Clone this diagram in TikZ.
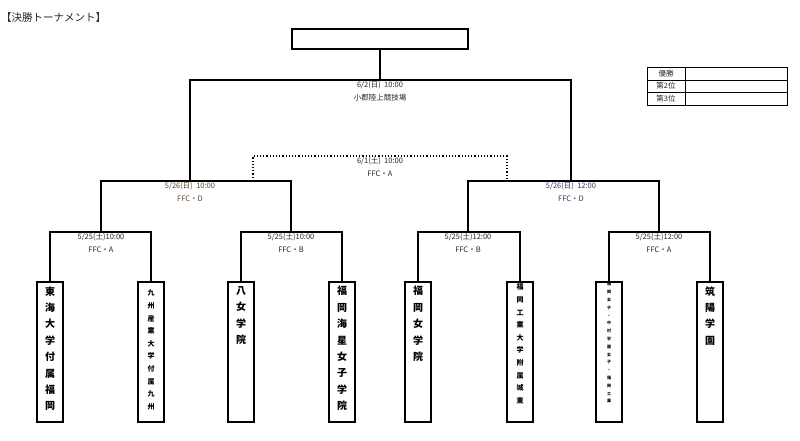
\documentclass[tikz,border=0pt]{standalone}
\usepackage{fontspec}
\setmainfont{Noto Sans CJK JP}
\definecolor{semiL}{RGB}{95,70,45}
\definecolor{semiR}{RGB}{45,55,100}
\begin{document}
\begin{tikzpicture}[x=1pt,y=-1pt,
        line/.style={line width=1.2pt},
        team/.style={draw,line width=1.5pt,minimum width=26pt,minimum height=140pt,inner sep=0pt},
        bigtate/.style={anchor=north,inner sep=0pt,align=center,font=\bfseries\fontsize{10}{16.4}\selectfont},
        midtate/.style={anchor=north,inner sep=0pt,align=center,font=\bfseries\fontsize{7}{12.6}\selectfont},
        minitate/.style={anchor=north,inner sep=0pt,align=center,font=\bfseries\fontsize{4}{7.8}\selectfont},
        info/.style={inner sep=0pt,font=\fontsize{7.5}{8}\selectfont,text=black!85}]
        \useasboundingbox (0,0) rectangle (800,441);
        \node[anchor=west,inner sep=0pt,font=\fontsize{10.5}{11}\selectfont,text=black!85] (title) at (1,18) {【決勝トーナメント】};
        \node[draw,line width=2.5pt,minimum width=176pt,minimum height=20pt,inner sep=0pt] (final) at (380,39) {};
        % rank table
        \draw (647,67) rectangle (787,105);
        \draw (685,67)--(685,105);
        \foreach \y in {80,92.5}
        \draw (647,\y)--(787,\y);
        \foreach \r [count=\i] in {優勝,第2位,第3位}
        \node[info] (rank\i) at (666,60.5+\i*12.7) {\r};
        % teams
        \foreach \x [count=\i] in {50,151,241,342,418,520,609,710}
        \node[team] (t\i) at (\x,352) {};
        \node[bigtate] (n1) at ([yshift=-5pt]t1.north) {東\\海\\大\\学\\付\\属\\福\\岡};
        \node[midtate] (n2) at ([yshift=-8.5pt]t2.north) {九\\州\\産\\業\\大\\学\\付\\属\\九\\州};
        \node[bigtate] (n3) at ([yshift=-5pt]t3.north) {八\\女\\学\\院};
        \node[bigtate] (n4) at ([yshift=-5pt]t4.north) {福\\岡\\海\\星\\女\\子\\学\\院};
        \node[bigtate] (n5) at ([yshift=-5pt]t5.north) {福\\岡\\女\\学\\院};
        \node[midtate] (n6) at ([yshift=-2.5pt]t6.north) {福\\岡\\工\\業\\大\\学\\附\\属\\城\\東};
        \node[minitate] (n7) at ([yshift=-1pt]t7.north) {福\\岡\\女\\子\\・\\中\\村\\学\\園\\女\\子\\・\\福\\岡\\工\\業};
        \node[bigtate] (n8) at ([yshift=-5pt]t8.north) {筑\\陽\\学\\園};
        % bracket points
        \coordinate (q1) at (101,232);
        \coordinate (q2) at (291,232);
        \coordinate (q3) at (468,232);
        \coordinate (q4) at (659,232);
        \coordinate (s1) at (190,181);
        \coordinate (s2) at (571,181);
        \coordinate (f) at (380,80);
        \coordinate (d1) at (253,181);
        \coordinate (d2) at (507,181);
        \coordinate (third) at (380,156);
        \foreach \a/\b/\q in {1/2/q1,3/4/q2,5/6/q3,7/8/q4}
        \draw[line] (t\a.north) |- (\q) -| (t\b.north);
        \draw[line] (q1) |- (s1) -| (q2);
        \draw[line] (q3) |- (s2) -| (q4);
        \draw[line] (s1) |- (f) -| (s2);
        \draw[line] (final.south)--(f);
        \draw[line,dotted] (d1) |- (third) -| (d2);
        % match labels
        \foreach \q/\d/\c in {q1/10:00/A,q2/10:00/B,q3/12:00/B,q4/12:00/A}
            {
                \node[info] (\q d) at ([yshift=-5.5pt]\q) {5/25(土)\d};
                \node[info] (\q c) at ([yshift=-18pt]\q) {FFC・\c};
            }
        \node[info,text=semiL] (s1d) at ([yshift=-5.5pt]s1) {5/26(日)~~10:00};
        \node[info,text=semiL] (s1c) at ([yshift=-18pt]s1) {FFC・D};
        \node[info,text=semiR] (s2d) at ([yshift=-5.5pt]s2) {5/26(日)~~12:00};
        \node[info,text=semiR] (s2c) at ([yshift=-18pt]s2) {FFC・D};
        \node[info] (td) at ([yshift=-5.5pt]third) {6/1(土)~~10:00};
        \node[info] (tc) at ([yshift=-18pt]third) {FFC・A};
        \node[info] (fd) at ([yshift=-5.5pt]f) {6/2(日)~~10:00};
        \node[info] (fc) at ([yshift=-18pt]f) {小郡陸上競技場};
    \end{tikzpicture}
\end{document}
